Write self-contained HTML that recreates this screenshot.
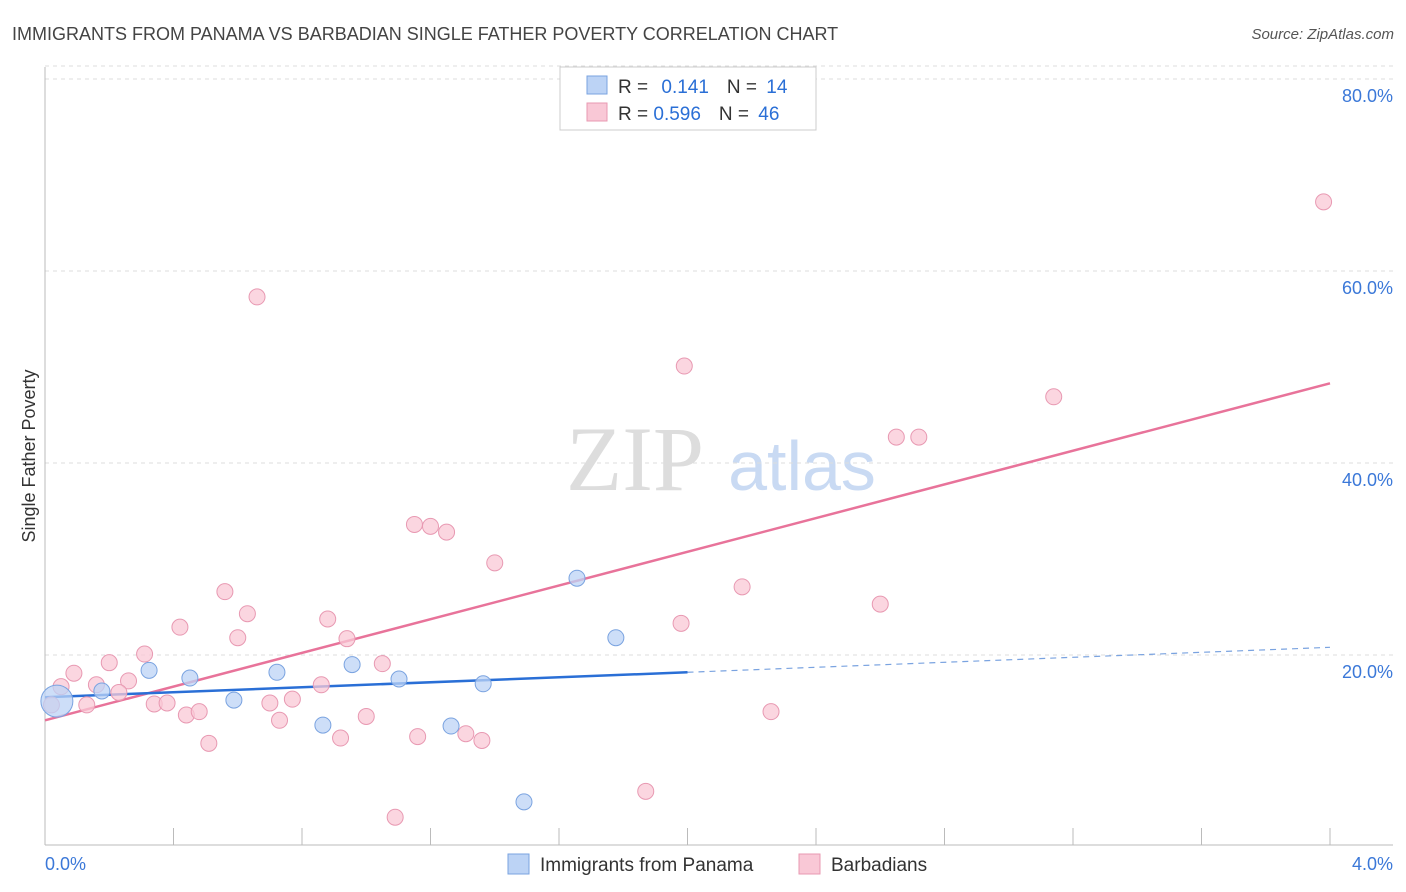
<!DOCTYPE html>
<html><head><meta charset="utf-8">
<style>
body{margin:0;background:#fff;font-family:"Liberation Sans",sans-serif;}
#wrap{position:relative;width:1406px;height:892px;overflow:hidden;}
</style></head>
<body>
<div id="wrap">
<svg id="svg" width="1406" height="892" xmlns="http://www.w3.org/2000/svg">
<text x="12" y="40" font-size="18" fill="#444">IMMIGRANTS FROM PANAMA VS BARBADIAN SINGLE FATHER POVERTY CORRELATION CHART</text>
<text x="1394" y="39" font-size="15" fill="#555" font-style="italic" text-anchor="end">Source: ZipAtlas.com</text>
<text x="35" y="456" font-size="18" fill="#333" text-anchor="middle" transform="rotate(-90 35 456)">Single Father Poverty</text>
<g>
<text x="635" y="490" font-size="92" fill="#ddd" font-family="Liberation Serif,serif" text-anchor="middle">ZIP</text>
<text x="802" y="490" font-size="70" fill="#c9daf3" text-anchor="middle">atlas</text>
</g>
<g id="grid"></g><g id="axes"></g><g id="trends"></g><g id="pts"></g>
<g>
<rect x="560" y="67" width="256" height="63" fill="#fff" stroke="#ccc"/>
<rect x="587" y="76" width="20" height="18" fill="#bcd3f5" stroke="#7aa3e0"/>
<rect x="587" y="103" width="20" height="18" fill="#f9c8d6" stroke="#e899b2"/>
<text x="618" y="93" font-size="19" fill="#333">R = <tspan fill="#2a6fd6" dx="8">0.141</tspan><tspan dx="18" fill="#333">N = </tspan><tspan fill="#2a6fd6" dx="4">14</tspan></text>
<text x="618" y="120" font-size="19" fill="#333">R = <tspan fill="#2a6fd6">0.596</tspan><tspan dx="18" fill="#333">N = </tspan><tspan fill="#2a6fd6" dx="4">46</tspan></text>
</g>
<g>
<rect x="508" y="854" width="21" height="20" fill="#bcd3f5" stroke="#7aa3e0"/>
<text x="540" y="871" font-size="19" fill="#333">Immigrants from Panama</text>
<rect x="799" y="854" width="21" height="20" fill="#f9c8d6" stroke="#e899b2"/>
<text x="831" y="871" font-size="19" fill="#333">Barbadians</text>
</g>
</svg>
</div>
<script>
const blueX=[0.037,0.177,0.324,0.451,0.588,0.722,0.865,0.956,1.102,1.264,1.364,1.491,1.656,1.777];
const blueY=[15.2,16.25,18.4,17.6,15.3,18.2,12.7,19.0,17.5,12.6,17.0,4.7,28.0,21.8];
const blueR=[16,8,8,8,8,8,8,8,8,8,8,8,8,8];
const pinkX=[0.66,1.99,3.98,3.14,2.65,2.72,1.15,1.20,1.25,1.40,0.56,2.17,2.60,0.63,0.42,0.88,1.98,0.60,0.94,0.31,0.20,0.09,1.05,0.05,0.16,0.26,0.23,0.86,0.77,0.70,0.34,0.38,0.13,0.02,0.44,0.48,0.73,1.00,0.51,0.92,1.16,1.31,1.36,2.26,1.87,1.09];
const pinkY=[57.3,50.1,67.2,46.9,42.7,42.7,33.6,33.4,32.8,29.6,26.6,27.1,25.3,24.3,22.9,23.75,23.3,21.8,21.7,20.1,19.2,18.1,19.1,16.7,16.9,17.3,16.1,16.9,15.4,15.0,14.9,15.0,14.8,14.8,13.75,14.1,13.2,13.6,10.8,11.35,11.5,11.8,11.1,14.1,5.8,3.1];
const pinkTrend=[13.2,48.3];
const blueTrend=[15.6,20.8];
const blueSolidEnd=2.0;
const yTicks=[20,40,60,80];
const yTickLabels=["20.0%","40.0%","60.0%","80.0%"];
const xTicks=[0,0.4,0.8,1.2,1.6,2.0,2.4,2.8,3.2,3.6,4.0];
const NS="http://www.w3.org/2000/svg";
const sx=v=>45+v*321.25, sy=v=>847-v*9.6;
function mk(tag,at,parent){const e=document.createElementNS(NS,tag);for(const k in at)e.setAttribute(k,at[k]);document.getElementById(parent).appendChild(e);return e;}
yTicks.forEach((t,i)=>{
 const g=mk('line',{x1:45,x2:1393,y1:sy(t),y2:sy(t),stroke:'#ddd','stroke-dasharray':'4,4'},'grid');
 
 
 const l=mk('text',{x:1393,y:sy(t)+23,'font-size':18,fill:'#3b78d8','text-anchor':'end'},'grid');
 l.textContent=yTickLabels[i];
 
 
});
const tg=mk('line',{x1:45,x2:1393,y1:sy(80)-1-12,y2:sy(80)-1-12,stroke:'#ddd','stroke-dasharray':'4,4'},'grid');


const ya=mk('line',{x1:45,x2:45,y1:67,y2:845,stroke:'#bbb'},'axes');


const xa=mk('line',{x1:45,x2:1393,y1:845,y2:845,stroke:'#bbb'},'axes');


xTicks.forEach(t=>{const k=mk('line',{x1:sx(t),x2:sx(t),y1:828,y2:845,stroke:'#bbb'},'axes');
 
 });
[["0.0%",45,'start'],["4.0%",1393,'end']].forEach(a=>{const t=mk('text',{x:a[1],y:870,'font-size':18,fill:'#3b78d8','text-anchor':a[2]},'axes');t.textContent=a[0];
 
 });
pinkX.forEach((x,i)=>{const c=mk('circle',{cx:sx(x),cy:sy(pinkY[i]),r:8,fill:'#f9c8d6','fill-opacity':0.75,stroke:'#e899b2'},'pts');
 
 });
blueX.forEach((x,i)=>{const c=mk('circle',{cx:sx(x),cy:sy(blueY[i]),r:blueR[i],fill:'#bcd3f5','fill-opacity':0.75,stroke:'#7aa3e0'},'pts');
 
 });
const pl=mk('line',{x1:sx(0),y1:sy(pinkTrend[0]),x2:sx(4),y2:sy(pinkTrend[1]),stroke:'#e8739a','stroke-width':2.5},'trends');


const bm=blueTrend[0]+(blueTrend[1]-blueTrend[0])*blueSolidEnd/4;
const bl=mk('line',{x1:sx(0),y1:sy(blueTrend[0]),x2:sx(blueSolidEnd),y2:sy(bm),stroke:'#2a6fd6','stroke-width':2.5},'trends');


const bd=mk('line',{x1:sx(blueSolidEnd),y1:sy(bm),x2:sx(4),y2:sy(blueTrend[1]),stroke:'#7aa3e0','stroke-width':1.2,'stroke-dasharray':'6,5'},'trends');


</script>
</body></html>
